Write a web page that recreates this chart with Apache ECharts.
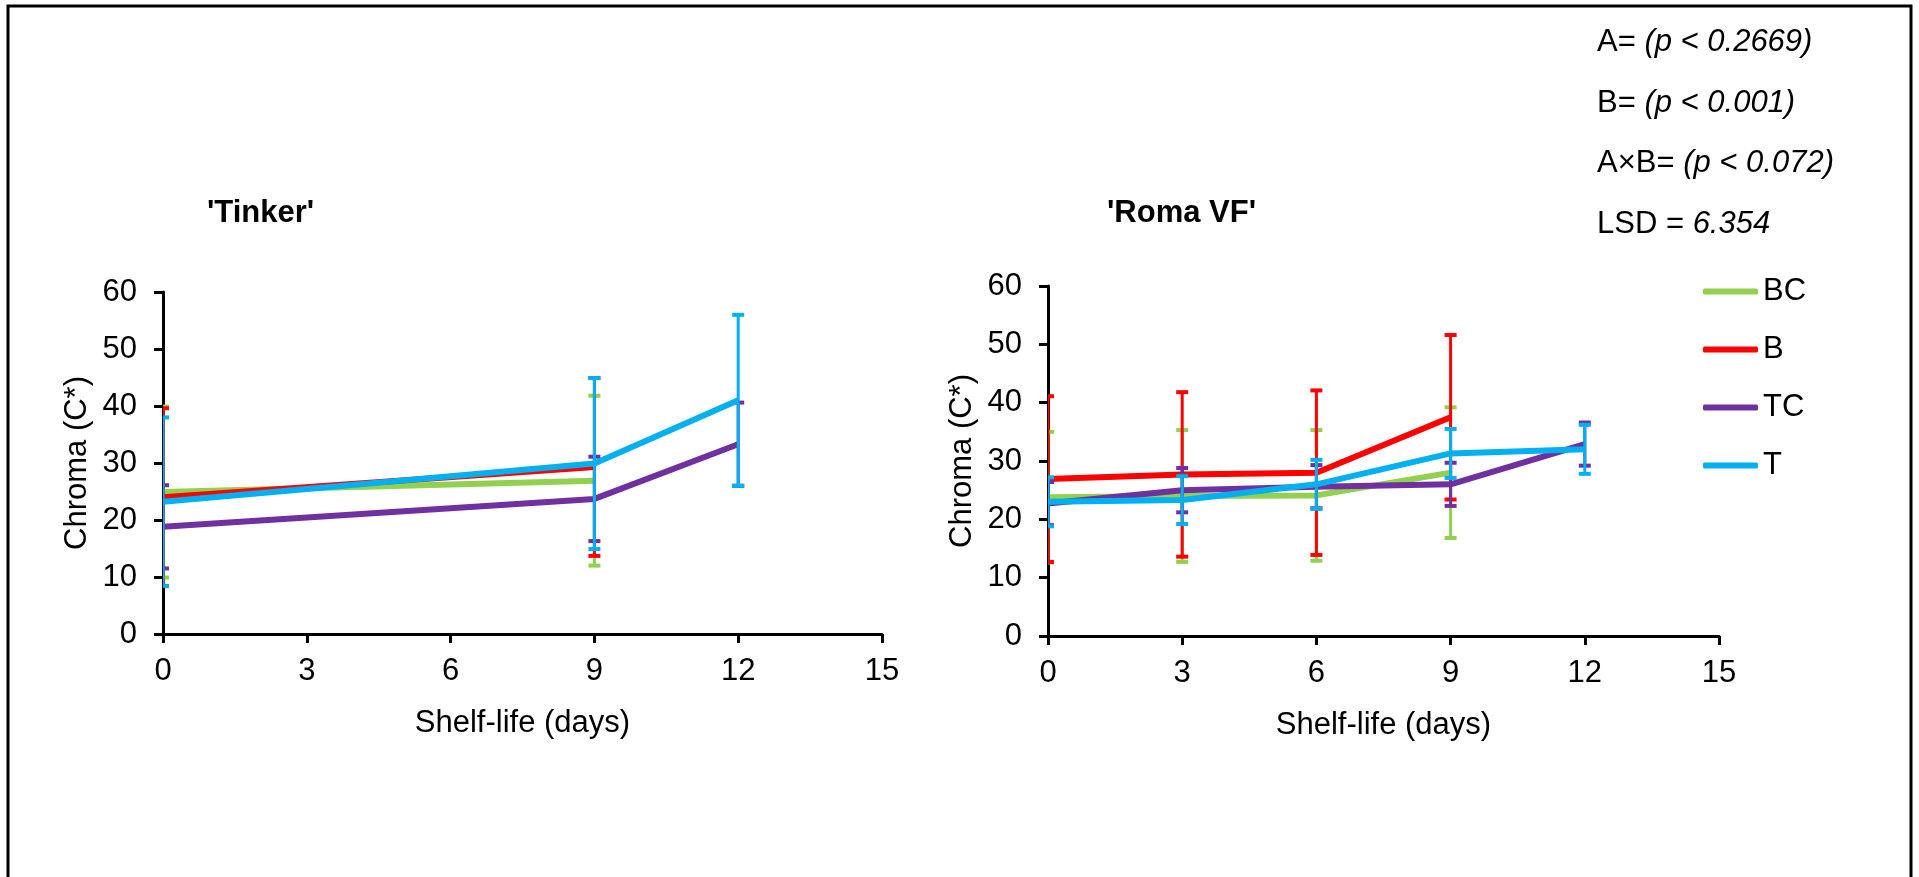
<!DOCTYPE html>
<html><head><meta charset="utf-8">
<script src="https://cdn.jsdelivr.net/npm/echarts@6/dist/echarts.min.js"></script>
<style>html,body{margin:0;padding:0;background:#fff}#c{width:1919px;height:877px}</style>
</head><body><div id="c"></div>
<script>
const seriesNames = ['BC', 'B', 'TC', 'T'];
const seriesColors = ['#92D050', '#FF0000', '#7030A0', '#00B0F0'];
const xTickValues = [0, 3, 6, 9, 12, 15];
const yTickValues = [0, 10, 20, 30, 40, 50, 60];

// 'Tinker'
const tinkerDays = [[0, 9], [0, 9], [0, 9, 12], [0, 9, 12]];
const tinkerBC = [24.9, 26.9];
const tinkerB = [24.0, 29.3];
const tinkerTC = [18.8, 23.7, 33.3];
const tinkerT = [23.2, 29.9, 41.0];
const tinkerBCerr = [15.0, 14.9];
const tinkerBerr = [15.6, 15.6];
const tinkerTCerr = [7.3, 7.4, 7.3];
const tinkerTerr = [14.8, 15.0, 15.0];

// 'Roma VF'
const romaDays = [[0, 3, 6, 9], [0, 3, 6, 9], [0, 3, 6, 9, 12], [0, 3, 6, 9, 12]];
const romaBC = [23.8, 24.0, 24.1, 28.0];
const romaB = [26.9, 27.7, 28.0, 37.5];
const romaTC = [22.7, 25.0, 25.6, 26.0, 32.9];
const romaT = [23.0, 23.3, 26.0, 31.3, 32.0];
const romaBCerr = [11.2, 11.3, 11.2, 11.2];
const romaBerr = [14.2, 14.1, 14.1, 14.1];
const romaTCerr = [3.7, 3.8, 3.7, 3.7, 3.7];
const romaTerr = [4.2, 4.1, 4.2, 4.2, 4.2];

const FONT = '"Liberation Sans", Arial, sans-serif';
const FS = 31;

const charts = [
  {days: tinkerDays, means: [tinkerBC, tinkerB, tinkerTC, tinkerT], errs: [tinkerBCerr, tinkerBerr, tinkerTCerr, tinkerTerr]},
  {days: romaDays, means: [romaBC, romaB, romaTC, romaT], errs: [romaBCerr, romaBerr, romaTCerr, romaTerr]}
];

function errRender(color) {
  return function (params, api) {
    const x = api.value(0), y = api.value(1), e = api.value(2);
    const top = api.coord([x, y + e]);
    const bot = api.coord([x, y - e]);
    const cw = 6;
    return {
      type: 'group',
      children: [
        {type: 'line', shape: {x1: top[0], y1: top[1], x2: bot[0], y2: bot[1]}, style: {stroke: color, lineWidth: 3}},
        {type: 'line', shape: {x1: top[0] - cw, y1: top[1], x2: top[0] + cw, y2: top[1]}, style: {stroke: color, lineWidth: 4}},
        {type: 'line', shape: {x1: bot[0] - cw, y1: bot[1], x2: bot[0] + cw, y2: bot[1]}, style: {stroke: color, lineWidth: 4}}
      ]
    };
  };
}

const series = [];
charts.forEach((c, ci) => {
  seriesNames.forEach((name, si) => {
    const d = c.days[si];
    series.push({
      type: 'custom', name: name, xAxisIndex: ci, yAxisIndex: ci,
      clip: true, z: 2 + si * 2,
      itemStyle: {color: seriesColors[si]},
      renderItem: errRender(seriesColors[si]),
      data: d.map((x, k) => [x, c.means[si][k], c.errs[si][k]]),
      silent: true
    });
    series.push({
      type: 'line', name: name, xAxisIndex: ci, yAxisIndex: ci,
      z: 3 + si * 2,
      showSymbol: false, symbol: 'none',
      lineStyle: {color: seriesColors[si], width: 6},
      itemStyle: {color: seriesColors[si]},
      data: d.map((x, k) => [x, c.means[si][k]])
    });
  });
});

function xAx(i) {
  return {
    type: 'value', gridIndex: i, min: xTickValues[0], max: xTickValues[xTickValues.length - 1], interval: 3,
    name: 'Shelf-life (days)', nameLocation: 'middle', nameGap: 74,
    nameTextStyle: {fontSize: FS, color: '#000', fontFamily: FONT},
    axisLine: {lineStyle: {color: '#000', width: 3}},
    axisTick: {show: true, inside: false, length: 9, lineStyle: {color: '#000', width: 3}},
    axisLabel: {fontSize: FS, color: '#000', fontFamily: FONT, margin: 22},
    splitLine: {show: false}
  };
}
function yAx(i) {
  return {
    type: 'value', gridIndex: i, min: yTickValues[0], max: yTickValues[yTickValues.length - 1], interval: 10,
    name: 'Chroma (C*)', nameLocation: 'middle', nameGap: 70,
    nameTextStyle: {fontSize: FS, color: '#000', fontFamily: FONT},
    axisLine: {show: true, lineStyle: {color: '#000', width: 3}},
    axisTick: {show: true, inside: false, length: 9, lineStyle: {color: '#000', width: 3}},
    axisLabel: {fontSize: FS, color: '#000', fontFamily: FONT, margin: 26},
    splitLine: {show: false}
  };
}

const chart = echarts.init(document.getElementById('c'), null, {renderer: 'canvas'});
chart.setOption({
  backgroundColor: '#fff',
  animation: false,
  grid: [
    {left: 163, top: 292, width: 719, height: 342},
    {left: 1048, top: 286, width: 671, height: 350}
  ],
  xAxis: [xAx(0), xAx(1)],
  yAxis: [yAx(0), yAx(1)],
  legend: {
    data: seriesNames, orient: 'vertical', left: 1703, top: 276, padding: 0,
    icon: 'roundRect', itemWidth: 55, itemHeight: 6, itemGap: 27,
    textStyle: {fontSize: FS, color: '#000', fontFamily: FONT, padding: [0, 0, 0, 0]}
  },
  graphic: [
    {type: 'rect', silent: true, shape: {x: 8, y: 6, width: 1903, height: 900}, style: {fill: 'none', stroke: '#000', lineWidth: 3}},
    {type: 'text', left: 207, top: 198, style: {text: "'Tinker'", font: 'bold ' + FS + 'px ' + FONT, fill: '#000'}},
    {type: 'text', left: 1107, top: 198, style: {text: "'Roma VF'", font: 'bold ' + FS + 'px ' + FONT, fill: '#000'}},
    {type: 'text', left: 1597, top: 27, style: {text: '{n|A= }{i|(p < 0.2669)}', rich: {n: {fontSize: FS, fontFamily: FONT, fill: '#000'}, i: {fontSize: FS, fontFamily: FONT, fontStyle: 'italic', fill: '#000'}}}},
    {type: 'text', left: 1597, top: 88, style: {text: '{n|B= }{i|(p < 0.001)}', rich: {n: {fontSize: FS, fontFamily: FONT, fill: '#000'}, i: {fontSize: FS, fontFamily: FONT, fontStyle: 'italic', fill: '#000'}}}},
    {type: 'text', left: 1597, top: 148, style: {text: '{n|A×B= }{i|(p < 0.072)}', rich: {n: {fontSize: FS, fontFamily: FONT, fill: '#000'}, i: {fontSize: FS, fontFamily: FONT, fontStyle: 'italic', fill: '#000'}}}},
    {type: 'text', left: 1597, top: 209, style: {text: '{n|LSD = }{i|6.354}', rich: {n: {fontSize: FS, fontFamily: FONT, fill: '#000'}, i: {fontSize: FS, fontFamily: FONT, fontStyle: 'italic', fill: '#000'}}}}
  ],
  series: series
});
</script></body></html>
